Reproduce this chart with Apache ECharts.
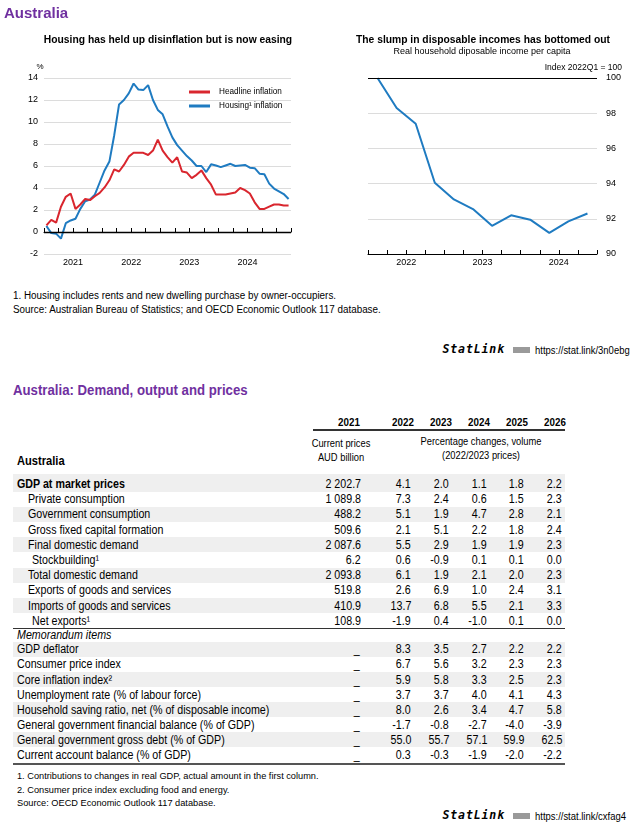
<!DOCTYPE html>
<html><head><meta charset="utf-8">
<script src="https://cdn.jsdelivr.net/npm/echarts/dist/echarts.min.js"></script>
<style>
html,body{margin:0;padding:0;background:#fff;}
#page{position:relative;width:640px;height:825px;overflow:hidden;font-family:'Liberation Sans',Arial,sans-serif;color:#000;}
.t{position:absolute;white-space:nowrap;line-height:1;}
#chart{position:absolute;left:0;top:0;width:640px;height:280px;}
</style></head>
<body><div id="page"><div id="chart"></div></div>
<script>
// ---------- Chart data ----------
// Monthly, Jan 2021 .. Mar 2025 (y-o-y % change)
const months = 51;
const yearLabelsLeft = ['2021','2022','2023','2024'];
const headlineInflation = [0.6,1.1,0.85,2.3,3.2,3.5,2.1,2.5,3.0,2.9,3.25,3.55,
  4.05,4.7,5.7,5.5,6.1,6.85,7.2,7.2,7.2,7.0,7.4,8.4,
  7.4,6.8,6.3,6.8,5.5,5.4,4.9,5.2,5.6,4.9,4.3,3.4,
  3.4,3.4,3.5,3.6,4.0,3.8,3.5,2.7,2.1,2.1,2.3,2.5,
  2.5,2.4,2.4];
const housingInflation = [0.55,-0.1,-0.15,-0.6,0.8,1.05,1.2,2.1,2.8,2.95,3.4,4.5,
  5.6,6.4,8.8,11.6,12.0,12.6,13.5,12.95,12.9,13.35,12.0,11.1,
  10.7,9.6,8.6,7.9,7.4,6.9,6.5,6.0,6.0,5.45,6.15,6.05,
  5.9,6.05,6.2,6.0,6.05,6.1,5.85,5.8,5.3,5.25,4.4,3.95,
  3.7,3.45,3.0];
// Quarterly, 2022Q1 .. 2024Q4, index 2022Q1 = 100
const yearLabelsRight = ['2022','2023','2024'];
const disposableIncome = [100,98.3,97.4,94.05,93.1,92.55,91.6,92.2,91.95,91.2,91.85,92.3];
const seriesNames = ['Headline inflation','Housing\u00b9 inflation'];

// ---------- Table data ----------
const tableYears = ['2021','2022','2023','2024','2025','2026'];
const demandLabels = ['GDP at market prices','Private consumption','Government consumption','Gross fixed capital formation','Final domestic demand','Stockbuilding\u00b9','Total domestic demand','Exports of goods and services','Imports of goods and services','Net exports\u00b9'];
const demandLevel = [0,1,1,1,1,2,1,1,1,2];
const demand2021 = [2202.7,1089.8,488.2,509.6,2087.6,6.2,2093.8,519.8,410.9,108.9];
const demand2022 = [4.1,7.3,5.1,2.1,5.5,0.6,6.1,2.6,13.7,-1.9];
const demand2023 = [2.0,2.4,1.9,5.1,2.9,-0.9,1.9,6.9,6.8,0.4];
const demand2024 = [1.1,0.6,4.7,2.2,1.9,0.1,2.1,1.0,5.5,-1.0];
const demand2025 = [1.8,1.5,2.8,1.8,1.9,0.1,2.0,2.4,2.1,0.1];
const demand2026 = [2.2,2.3,2.1,2.4,2.3,0.0,2.3,3.1,3.3,0.0];
const memoTitle = 'Memorandum items';
const memoLabels = ['GDP deflator','Consumer price index','Core inflation index\u00b2','Unemployment rate (% of labour force)','Household saving ratio, net (% of disposable income)','General government financial balance (% of GDP)','General government gross debt (% of GDP)','Current account balance (% of GDP)'];
const memo2022 = [8.3,6.7,5.9,3.7,8.0,-1.7,55.0,0.3];
const memo2023 = [3.5,5.6,5.8,3.7,2.6,-0.8,55.7,-0.3];
const memo2024 = [2.7,3.2,3.3,4.0,3.4,-2.7,57.1,-1.9];
const memo2025 = [2.2,2.3,2.5,4.1,4.7,-4.0,59.9,-2.0];
const memo2026 = [2.2,2.3,2.3,4.3,5.8,-3.9,62.5,-2.2];

// ---------- helpers ----------
const page = document.getElementById('page');
const W = 640;
function txt(s, x, y, css, align, sx){
  sx = sx || 1;
  const d = document.createElement('div');
  d.className = 't';
  d.textContent = s;
  d.style.cssText += css || '';
  d.style.top = y + 'px';
  if (align === 'right') {
    d.style.right = (W - x) + 'px';
    d.style.transformOrigin = 'right center';
    d.style.transform = 'translateY(-50%) scaleX(' + sx + ')';
  } else if (align === 'center') {
    d.style.left = x + 'px';
    d.style.transformOrigin = 'center center';
    d.style.transform = 'translate(-50%,-50%) scaleX(' + sx + ')';
  } else {
    d.style.left = x + 'px';
    d.style.transformOrigin = 'left center';
    d.style.transform = 'translateY(-50%) scaleX(' + sx + ')';
  }
  page.appendChild(d);
  return d;
}
function box(x, y, w, h, bg){
  const d = document.createElement('div');
  d.style.cssText = 'position:absolute;left:'+x+'px;top:'+y+'px;width:'+w+'px;height:'+h+'px;background:'+bg+';';
  page.appendChild(d);
}
function fmt(v){
  const s = Math.abs(v).toFixed(1);
  let [a,b] = s.split('.');
  if (a.length > 3) a = a.slice(0, a.length-3) + ' ' + a.slice(a.length-3);
  return (v < 0 ? '-' : '') + a + '.' + b;
}

const PURPLE = '#7030a0';
const RED = '#d9262e';
const BLUE = '#1f7bc1';
const NARROW = 0.89;

// ---------- headers ----------
txt('Australia', 4, 12, 'font-weight:bold;font-size:15px;color:'+PURPLE+';', 'left', 1);
txt('Housing has held up disinflation but is now easing', 168, 40, 'font-weight:bold;font-size:10.3px;', 'center');
txt('The slump in disposable incomes has bottomed out', 483, 40, 'font-weight:bold;font-size:10.3px;', 'center');
txt('Real household diposable income per capita', 482, 51, 'font-size:9px;', 'center');
txt('%', 40, 67, 'font-size:8px;', 'center');
txt('Index 2022Q1 = 100', 622, 67, 'font-size:8.5px;', 'right');

// ---------- charts ----------
const chart = echarts.init(document.getElementById('chart'), null, {renderer:'canvas'});
const axisFont = {fontSize: 9, color:'#000', fontFamily:'Liberation Sans'};
const grid0 = {left:44, top:78, width:247, height:176};
const grid1 = {left:368, top:78, width:229, height:176};
const yearLblL = {}; yearLabelsLeft.forEach((y,i)=>{ yearLblL[6 + 12*i] = y; });
const yearLblR = {}; yearLabelsRight.forEach((y,i)=>{ yearLblR[2 + 4*i] = y; });

chart.setOption({
  animation:false,
  grid:[grid0, grid1],
  legend:{
    data: seriesNames, orient:'vertical', left:184, top:82, icon:'rect',
    itemWidth:21, itemHeight:3, itemGap:4,
    textStyle:{fontSize:8.2, color:'#000', fontFamily:'Liberation Sans', lineHeight:10, padding:[0,0,0,4]}
  },
  xAxis:[
    {gridIndex:0, type:'value', min:0, max:months, interval:3,
     axisLine:{show:true, lineStyle:{color:'#000', width:1}},
     axisTick:{show:true, inside:true, length:4, lineStyle:{color:'#000'}},
     axisLabel:Object.assign({margin:4, formatter:v=>yearLblL[v]||'', showMinLabel:true, showMaxLabel:true}, axisFont),
     splitLine:{show:false}},
    {gridIndex:1, type:'value', min:0, max:disposableIncome.length, interval:1,
     axisLine:{show:true, lineStyle:{color:'#000', width:1}},
     axisTick:{show:true, inside:true, length:4, lineStyle:{color:'#000'}},
     axisLabel:Object.assign({margin:4, formatter:v=>yearLblR[v]||''}, axisFont),
     splitLine:{show:false}}
  ],
  yAxis:[
    {gridIndex:0, type:'value', min:-2, max:14, interval:2,
     axisLine:{show:false}, axisTick:{show:false},
     axisLabel:Object.assign({margin:6}, axisFont),
     splitLine:{show:true, lineStyle:{color:'#dcdcdc', width:1}}},
    {gridIndex:1, type:'value', position:'right', min:90, max:100, interval:2,
     axisLine:{show:false}, axisTick:{show:false},
     axisLabel:Object.assign({margin:9}, axisFont),
     splitLine:{show:true, lineStyle:{color:'#dcdcdc', width:1}}}
  ],
  series:[
    {name:seriesNames[1], type:'line', xAxisIndex:0, yAxisIndex:0, symbol:'none',
     data: housingInflation.map((v,i)=>[i+0.5, v]),
     lineStyle:{color:BLUE, width:2}, itemStyle:{color:BLUE},
     markLine:{silent:true, symbol:'none', label:{show:false}, lineStyle:{color:'#000', width:1.3, type:'solid'}, data:[{yAxis:0}]}},
    {name:seriesNames[0], type:'line', xAxisIndex:0, yAxisIndex:0, symbol:'none', z:3,
     data: headlineInflation.map((v,i)=>[i+0.5, v]),
     lineStyle:{color:RED, width:2}, itemStyle:{color:RED}},
    {name:'Income', type:'line', xAxisIndex:1, yAxisIndex:1, symbol:'none',
     data: disposableIncome.map((v,i)=>[i+0.5, v]),
     lineStyle:{color:BLUE, width:2}, itemStyle:{color:BLUE},
     markLine:{silent:true, symbol:'none', label:{show:false}, lineStyle:{color:'#000', width:1, type:'solid'}, data:[{yAxis:100}]}}
  ]
});

// ---------- notes under chart ----------
const noteCss = 'font-size:10px;';
txt('1. Housing includes rents and new dwelling purchase by owner-occupiers.', 13, 296, noteCss, 'left', 0.985);
txt('Source: Australian Bureau of Statistics; and OECD Economic Outlook 117 database.', 13, 310, noteCss, 'left', 0.985);

function statLink(y, url){
  txt('StatLink', 505, y, 'font-family:"DejaVu Sans Mono",monospace;font-weight:bold;font-style:italic;font-size:11.5px;letter-spacing:0.9px;', 'right');
  box(513, y-3, 17, 6, '#9a9a9a');
  txt(url, 535, y, 'font-size:11px;', 'left', 0.86);
}
statLink(350, 'https://stat.link/3n0ebg');

// ---------- table ----------
txt('Australia: Demand, output and prices', 13, 390, 'font-weight:bold;font-size:14.5px;color:'+PURPLE+';', 'left', 0.91);

const colRight = [361, 411, 449, 487, 524, 562];
const colCenter = [349, 403, 441, 479, 517, 555];
const bodyCss = 'font-size:12px;';
tableYears.forEach((y,i)=>txt(y, colCenter[i], 422, 'font-weight:bold;font-size:11px;', 'center', NARROW));
box(313, 429, 252, 1.5, '#333');
txt('Current prices', 341, 443, 'font-size:10.5px;', 'center', NARROW);
txt('AUD billion', 341, 457, 'font-size:10.5px;', 'center', NARROW);
txt('Percentage changes, volume', 481, 441, 'font-size:10.5px;', 'center', NARROW);
txt('(2022/2023 prices)', 481, 455, 'font-size:10.5px;', 'center', NARROW);
txt('Australia', 17, 461, 'font-weight:bold;font-size:12.5px;', 'left', NARROW);

const SHADE = '#efefef';
const rowStep = 15.2;
const demandCols = [demand2021, demand2022, demand2023, demand2024, demand2025, demand2026];
const indentX = [17, 28, 32];
demandLabels.forEach((lab, r)=>{
  const y = 484 + r*rowStep;
  if (r % 2 === 0) box(13, (r===0 ? y-10 : y-7.6), 552, (r===0 ? 18 : 15.2), SHADE);
});
demandLabels.forEach((lab, r)=>{
  const y = 484 + r*rowStep;
  txt(lab, indentX[demandLevel[r]], y, bodyCss + (demandLevel[r]===0 ? 'font-weight:bold;' : ''), 'left', NARROW);
  demandCols.forEach((col,c)=>txt(fmt(col[r]), colRight[c], y, bodyCss, 'right', NARROW));
});
box(13, 627.5, 552, 1, '#333');
txt(memoTitle, 17, 634.5, bodyCss + 'font-style:italic;', 'left', NARROW);
const memoCols = [memo2022, memo2023, memo2024, memo2025, memo2026];
memoLabels.forEach((lab, r)=>{
  const y = 649.3 + r*15.1;
  if (r % 2 === 0) box(13, y-7.6, 552, 15.1, SHADE);
});
memoLabels.forEach((lab, r)=>{
  const y = 649.3 + r*15.1;
  txt(lab, 17, y, bodyCss, 'left', NARROW);
  txt('_', 360, y, bodyCss, 'right', NARROW);
  memoCols.forEach((col,c)=>txt(fmt(col[r]), colRight[c+1], y, bodyCss, 'right', NARROW));
});
box(13, 763, 552, 2, '#555');
const fnCss = 'font-size:9.5px;';
txt('1. Contributions to changes in real GDP, actual amount in the first column.', 17, 776, fnCss, 'left', 0.97);
txt('2. Consumer price index excluding food and energy.', 17, 790, fnCss, 'left', 0.97);
txt('Source: OECD Economic Outlook 117 database.', 17, 803, fnCss, 'left', 0.97);
statLink(816, 'https://stat.link/cxfag4');
</script></body></html>
